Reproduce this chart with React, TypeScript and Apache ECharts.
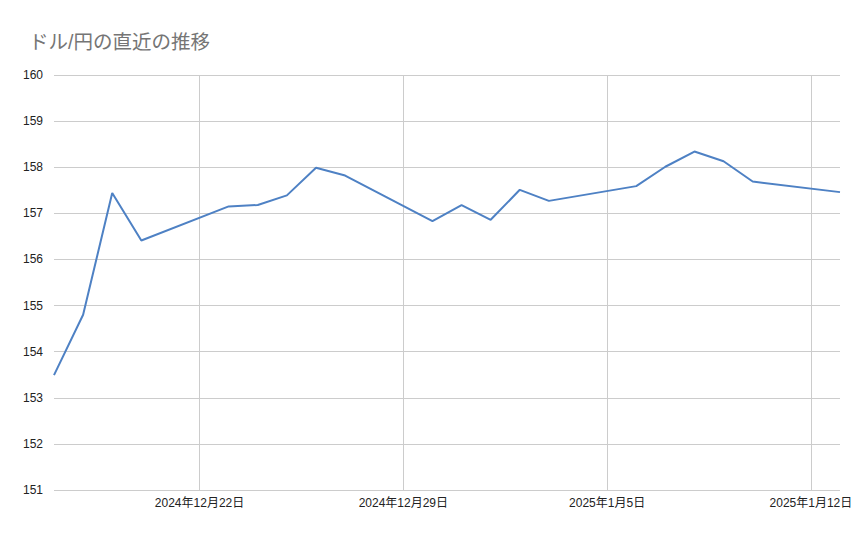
import React, { useEffect, useRef } from "react";
import * as echarts from "echarts";

const dates = [
  "2024-12-17", "2024-12-18", "2024-12-19", "2024-12-20",
  "2024-12-23", "2024-12-24", "2024-12-25", "2024-12-26", "2024-12-27",
  "2024-12-30", "2024-12-31", "2025-01-01", "2025-01-02", "2025-01-03",
  "2025-01-06", "2025-01-07", "2025-01-08", "2025-01-09", "2025-01-10",
  "2025-01-13",
];
const rates = [
  153.49, 154.8, 157.44, 156.41,
  157.15, 157.18, 157.39, 157.99, 157.82,
  156.83, 157.18, 156.86, 157.51, 157.27,
  157.59, 158.01, 158.34, 158.13, 157.69,
  157.46,
];
const tickDates = ["2024-12-22", "2024-12-29", "2025-01-05", "2025-01-12"];
const yTicks = [151, 152, 153, 154, 155, 156, 157, 158, 159, 160];
const titleText = "ドル/円の直近の推移";

const DAY = 86400000;
const toUTC = (s: string) => {
  const [y, m, d] = s.split("-").map(Number);
  return Date.UTC(y, m - 1, d);
};
const origin = toUTC(dates[0]);
const toDay = (s: string) => Math.round((toUTC(s) - origin) / DAY);
const dayLabel = (n: number) => {
  const d = new Date(origin + Math.round(n) * DAY);
  return `${d.getUTCFullYear()}年${d.getUTCMonth() + 1}月${d.getUTCDate()}日`;
};

const FONT = "'Liberation Sans', 'Noto Sans CJK JP', sans-serif";

export default function App() {
  const ref = useRef<HTMLDivElement>(null);
  useEffect(() => {
    if (!ref.current) return;
    const chart = echarts.init(ref.current, undefined, { renderer: "svg" });
    const ticks = tickDates.map(toDay);
    chart.setOption({
      animation: false,
      backgroundColor: "#ffffff",
      title: {
        text: titleText,
        left: 24,
        top: 27,
        textStyle: { fontFamily: FONT, fontSize: 19.5, fontWeight: "normal", color: "#757575" },
      },
      grid: { left: 54, right: 27, top: 75, bottom: 47, containLabel: false },
      xAxis: {
        type: "value",
        min: toDay(dates[0]),
        max: toDay(dates[dates.length - 1]),
        axisLine: { show: false },
        axisTick: { show: false, customValues: ticks },
        axisLabel: {
          customValues: ticks,
          margin: 7,
          fontFamily: FONT,
          fontSize: 12,
          color: "#222222",
          formatter: (v: number) => dayLabel(v),
        },
        splitLine: { show: true, lineStyle: { color: "#cccccc", width: 1 } },
      },
      yAxis: {
        type: "value",
        min: yTicks[0],
        max: yTicks[yTicks.length - 1],
        interval: 1,
        axisLine: { show: false },
        axisTick: { show: false },
        axisLabel: { margin: 11, fontFamily: FONT, fontSize: 12, color: "#222222" },
        splitLine: { show: true, lineStyle: { color: "#cccccc", width: 1 } },
      },
      series: [
        {
          type: "line",
          data: dates.map((d, i) => [toDay(d), rates[i]]),
          showSymbol: false,
          symbol: "none",
          lineStyle: { color: "#4e81c4", width: 2 },
          itemStyle: { color: "#4e81c4" },
        },
      ],
    });
    return () => chart.dispose();
  }, []);
  return <div ref={ref} style={{ width: 867, height: 537, position: "absolute", left: 0, top: 0 }} />;
}
